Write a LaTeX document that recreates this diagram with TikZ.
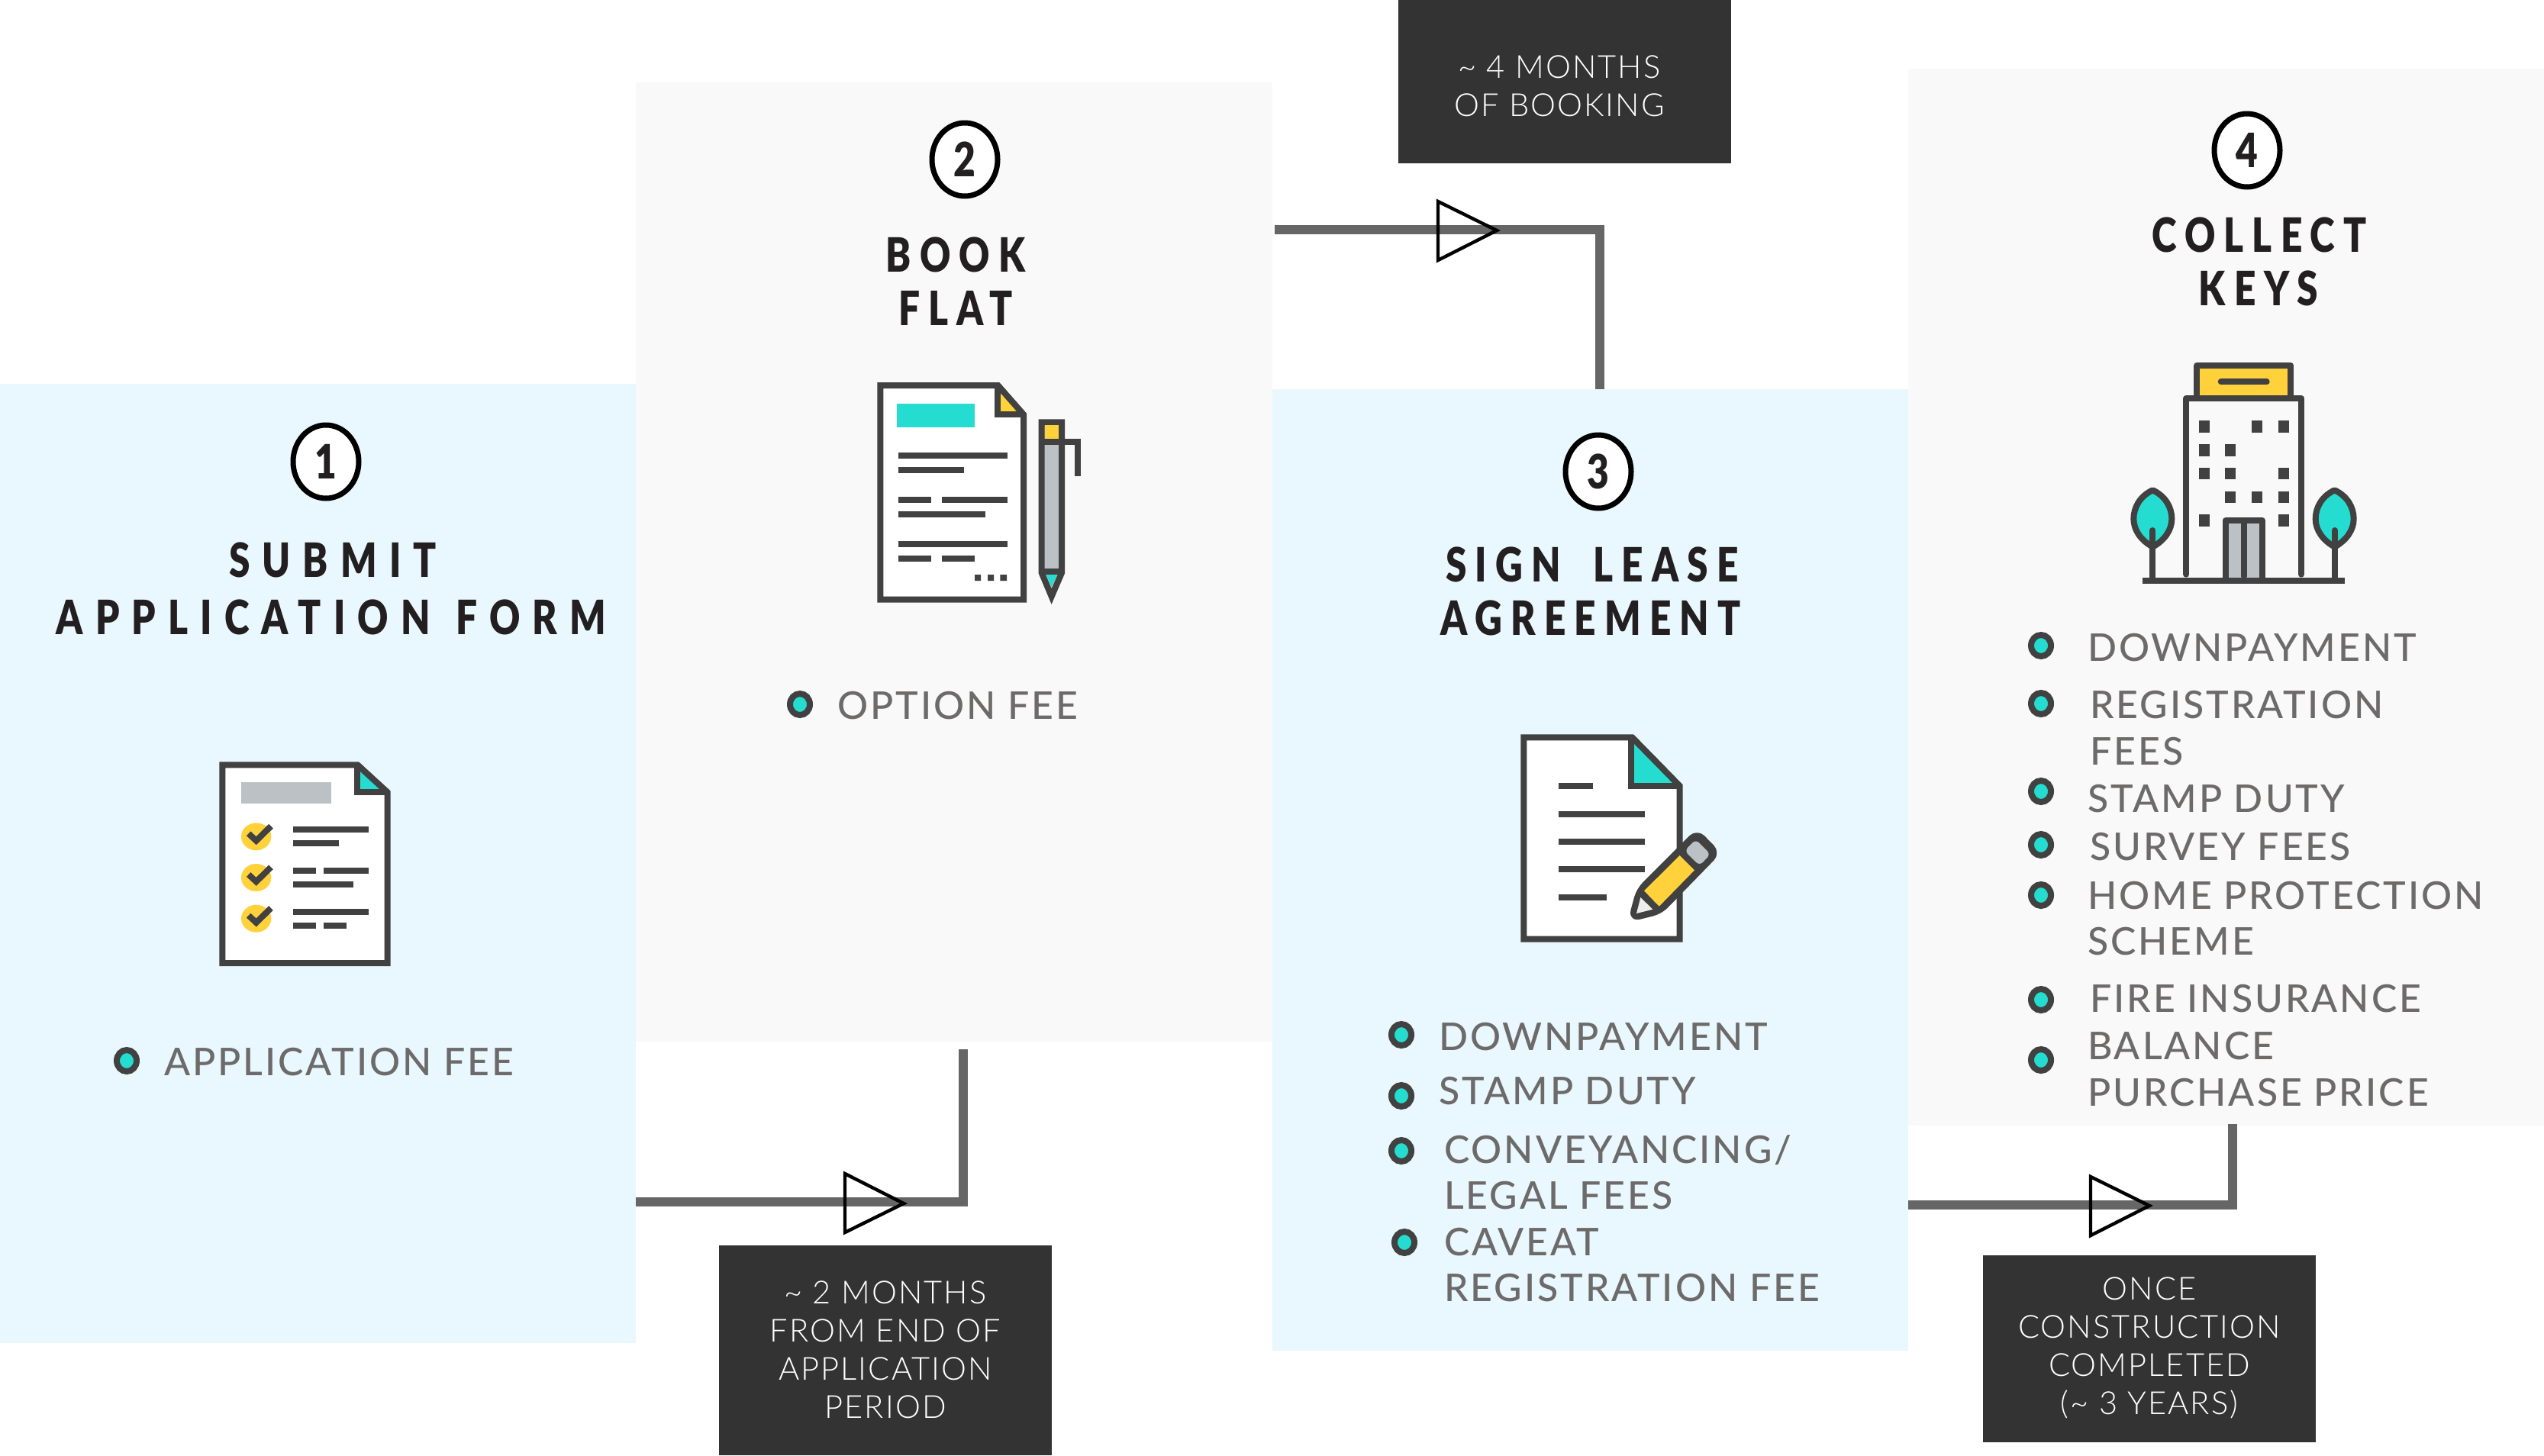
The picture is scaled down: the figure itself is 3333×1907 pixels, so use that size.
\documentclass[tikz,border=0pt]{standalone}
\usepackage{fontspec}
\usetikzlibrary{shapes.geometric}
\setmainfont[LetterSpace=6]{Lato Medium}
\newfontfamily\headfont[FakeStretch=0.8,LetterSpace=18]{Lato Black}
\newfontfamily\headwide[FakeStretch=0.8,LetterSpace=26]{Lato Black}
\newfontfamily\digitfont[FakeStretch=0.8]{Lato Black}
\newfontfamily\lightfont[LetterSpace=5]{Lato Light}
\definecolor{pblue}{HTML}{E9F7FF}
\definecolor{pgray}{HTML}{F9F9F9}
\definecolor{cline}{HTML}{666666}
\definecolor{cbox}{HTML}{333333}
\definecolor{idark}{HTML}{414141}
\definecolor{iyellow}{HTML}{FFD13B}
\definecolor{iteal}{HTML}{24DDD0}
\definecolor{igray}{HTML}{BCC1C5}
\definecolor{ctext}{HTML}{6D6A6A}
\definecolor{chead}{HTML}{231F20}
\tikzset{
 panel/.style={rectangle,anchor=north west,inner sep=0pt,outer sep=0pt},
 numc/.style={ellipse,draw=black,fill=white,line width=3.5pt,inner sep=0pt,outer sep=0pt,minimum width=43pt,minimum height=48pt,font=\digitfont\fontsize{31}{31}\selectfont,text=chead},
 headt/.style={anchor=base,inner sep=0pt,outer sep=0pt,text=chead,font=\headfont\fontsize{31}{31}\selectfont},
 headw/.style={headt,font=\headwide\fontsize{31}{31}\selectfont},
 itemt/.style={anchor=base west,inner sep=0pt,outer sep=0pt,text=ctext,font=\fontsize{25}{25}\selectfont},
 boxt/.style={anchor=base,inner sep=0pt,outer sep=0pt,text=white,font=\lightfont\fontsize{20.8}{20.8}\selectfont},
 bul/.style={ellipse,draw=idark,fill=iteal,line width=4pt,inner sep=0pt,outer sep=0pt,minimum width=26pt,minimum height=28pt,scale=0.5},
 dbox/.style={rectangle,fill=cbox,anchor=north west,inner sep=0pt,outer sep=0pt},
 conn/.style={draw=cline,line width=6pt},
 tri/.style={draw=black,line width=2.2pt,line join=miter},
 ic/.style={draw=idark,line width=4pt,line join=miter},
 icr/.style={draw=idark,line width=4pt,line join=round,line cap=round},
}
\newcommand\ibar[3]{\draw[ic] (#1,#3) -- (#2,#3);}
\newcommand\win[2]{\fill[idark] (#1,#2) rectangle ++(42,47);}
\newcommand\tree[1]{%
 \begin{scope}[shift={(#1,0)}]
 \draw[icr,fill=iteal] (0,577) .. controls (50,600) and (75,645) .. (75,690) .. controls (75,735) and (45,775) .. (0,800) .. controls (-45,775) and (-75,735) .. (-75,690) .. controls (-75,645) and (-50,600) .. (0,577) -- cycle;
 \draw[icr] (0,735) -- (0,933);
 \end{scope}}
\begin{document}
\begin{tikzpicture}[x=0.5pt,y=-0.5pt]
\useasboundingbox (0,0) rectangle (3333,1907);
% panels
\node[panel,fill=pblue,minimum width=416.5pt,minimum height=628.5pt] (p1) at (0,503) {};
\node[panel,fill=pgray,minimum width=417pt,minimum height=628.5pt] (p2) at (833,108) {};
\node[panel,fill=pblue,minimum width=416.5pt,minimum height=630pt] (p3) at (1667,510) {};
\node[panel,fill=pgray,minimum width=416.5pt,minimum height=692.5pt] (p4) at (2500,90) {};
% connectors
\coordinate (a1) at (833,1575); \coordinate (a2) at (1262,1575); \coordinate (a3) at (1262,1375);
\coordinate (b1) at (1670,301); \coordinate (b2) at (2096,301); \coordinate (b3) at (2096,510);
\coordinate (c1) at (2500,1579); \coordinate (c2) at (2925,1579); \coordinate (c3) at (2925,1473);
\draw[conn] (a1) -- (a2) -- (a3);
\draw[conn] (b1) -- (b2) -- (b3);
\draw[conn] (c1) -- (c2) -- (c3);
\draw[tri] (1107,1538) -- (1184,1577) -- (1107,1615) -- cycle;
\draw[tri] (1884,264) -- (1961,302) -- (1884,341) -- cycle;
\draw[tri] (2739,1542) -- (2816,1580) -- (2739,1619) -- cycle;
% dark boxes
\node[dbox,minimum width=218pt,minimum height=137.5pt] (d1) at (942,1632) {};
\node[dbox,minimum width=218pt,minimum height=107pt] (d2) at (1832,0) {};
\node[dbox,minimum width=218pt,minimum height=122.5pt] (d3) at (2598,1645) {};
\node[boxt] (d1a) at (1160,1708) {\textasciitilde\ 2 MONTHS};
\node[boxt] (d1b) at (1160,1758) {FROM END OF};
\node[boxt] (d1c) at (1160,1808) {APPLICATION};
\node[boxt] (d1d) at (1160,1858) {PERIOD};
\node[boxt] (d2a) at (2043,102) {\textasciitilde\ 4 MONTHS};
\node[boxt] (d2b) at (2043,152) {OF BOOKING};
\node[boxt] (d3a) at (2816,1703) {ONCE};
\node[boxt] (d3b) at (2816,1753) {CONSTRUCTION};
\node[boxt] (d3c) at (2816,1803) {COMPLETED};
\node[boxt] (d3d) at (2816,1853) {(\textasciitilde\ 3 YEARS)};
% numbers
\node[numc] (n1) at (427,605) {1};
\node[numc] (n2) at (1264,209) {2};
\node[numc] (n3) at (2094,618) {3};
\node[numc] (n4) at (2944,197) {4};
% headings
\node[headw] (h1a) at (436,756) {SUBMIT};
\node[headw] (h1b) at (434,831) {APPLICATION\hspace{3pt} FORM};
\node[headt] (h2a) at (1252,356) {BOOK};
\node[headt] (h2b) at (1252,426) {FLAT};
\node[headt] (h3a) at (2086,762) {SIGN\hspace{10pt} LEASE};
\node[headt] (h3b) at (2084,832) {AGREEMENT};
\node[headt] (h4a) at (2960,330) {COLLECT};
\node[headt] (h4b) at (2959,400) {KEYS};
% items
\node[bul] (b11) at (166,1390) {};
\node[itemt] (t11) at (215,1409) {APPLICATION FEE};
\node[bul] (b21) at (1048,923) {};
\node[itemt] (t21) at (1097,942) {OPTION FEE};
\node[bul] (b31) at (1836,1356) {};
\node[bul] (b32) at (1836,1436) {};
\node[bul] (b33) at (1836,1508) {};
\node[bul] (b34) at (1840,1628) {};
\node[itemt] (t31) at (1885,1376) {DOWNPAYMENT};
\node[itemt] (t32) at (1885,1447) {STAMP DUTY};
\node[itemt] (t33) at (1892,1524) {CONVEYANCING/};
\node[itemt] (t34) at (1892,1584) {LEGAL FEES};
\node[itemt] (t35) at (1892,1645) {CAVEAT};
\node[itemt] (t36) at (1892,1705) {REGISTRATION FEE};
\node[bul] (b41) at (2674,846) {};
\node[bul] (b42) at (2674,922) {};
\node[bul] (b43) at (2674,1037) {};
\node[bul] (b44) at (2674,1107) {};
\node[bul] (b45) at (2674,1173) {};
\node[bul] (b46) at (2674,1310) {};
\node[bul] (b47) at (2674,1389) {};
\node[itemt] (t41) at (2735,866) {DOWNPAYMENT};
\node[itemt] (t42) at (2738,941) {REGISTRATION};
\node[itemt] (t43) at (2738,1002) {FEES};
\node[itemt] (t44) at (2735,1064) {STAMP DUTY};
\node[itemt] (t45) at (2738,1127) {SURVEY FEES};
\node[itemt] (t46) at (2735,1191) {HOME PROTECTION};
\node[itemt] (t47) at (2735,1251) {SCHEME};
\node[itemt] (t48) at (2738,1326) {FIRE INSURANCE};
\node[itemt] (t49) at (2735,1388) {BALANCE};
\node[itemt] (t410) at (2735,1449) {PURCHASE PRICE};
% icon 1
\begin{scope}[shift={(250,960)},scale=1/3]
 \draw[ic,fill=white] (124,127) -- (655,127) -- (773,235) -- (773,906) -- (124,906) -- cycle;
 \fill[iteal] (654,127) -- (773,235) -- (654,235) -- cycle;
 \draw[ic] (654,127) -- (654,235) -- (773,235);
 \draw[ic] (655,127) -- (773,235);
 \fill[igray] (197,194) rectangle (552,279);
 \foreach \yy in {409,570,731}{
  \fill[iyellow] (257,\yy) ellipse [x radius=59,y radius=54];
  \draw[ic] (227,\yy-12) -- (257,\yy+16) -- (315,\yy-41);
 }
 \ibar{403}{699}{382} \ibar{403}{581}{436}
 \ibar{403}{493}{544} \ibar{522}{699}{544} \ibar{403}{640}{597}
 \ibar{403}{699}{705} \ibar{403}{493}{758} \ibar{522}{611}{758}
\end{scope}
% icon 2
\begin{scope}[shift={(1120,480)},scale=1/3]
 \draw[ic,fill=white] (100,75) -- (562,75) -- (663,190) -- (663,917) -- (100,917) -- cycle;
 \fill[iyellow] (561,75) -- (663,190) -- (561,190) -- cycle;
 \draw[ic] (561,75) -- (561,190) -- (663,190);
 \draw[ic] (562,75) -- (663,190);
 \fill[iteal] (164,147) rectangle (471,240);
 \ibar{170}{600}{350} \ibar{170}{428}{409}
 \ibar{170}{300}{524} \ibar{342}{600}{524} \ibar{170}{514}{583}
 \ibar{170}{600}{699} \ibar{170}{300}{757} \ibar{342}{471}{757}
 \fill[idark] (471,819) rectangle (495,843) (522,819) rectangle (546,843) (571,819) rectangle (597,843);
 \draw[ic,fill=igray] (734,220) -- (813,220) -- (813,812) -- (773,905) -- (734,812) -- cycle;
 \fill[iyellow] (746,232) rectangle (801,285);
 \draw[ic] (734,297) -- (876,297) -- (876,433);
 \draw[ic] (734,806) -- (813,806);
 \fill[iteal] (752,819) -- (796,819) -- (773,866) -- cycle;
\end{scope}
% icon 3
\begin{scope}[shift={(1960,940)},scale=1/3]
 \draw[ic,fill=white] (109,79) -- (535,79) -- (722,270) -- (722,872) -- (109,872) -- cycle;
 \fill[iteal] (531,79) -- (722,270) -- (531,270) -- cycle;
 \draw[ic] (531,85) -- (531,270) -- (722,270);
 \draw[ic] (535,79) -- (722,270);
 \ibar{245}{382}{271} \ibar{245}{586}{380} \ibar{245}{586}{490} \ibar{245}{586}{598} \ibar{245}{436}{708}
 \draw[draw=idark,line width=4pt,fill=idark,line join=round,rounded corners=5pt] (533,790) -- (563,680) -- (790,453) -- (868,533) -- (645,762) -- cycle;
 \fill[iyellow] (582,682) -- (722,543) -- (780,601) -- (641,743) -- cycle;
 \fill[igray,rounded corners=3pt] (741,525) -- (785,480) -- (843,538) -- (800,583) -- cycle;
 \fill[black!7] (568,708) -- (616,755) -- (552,771) -- cycle;
\end{scope}
% icon 4
\begin{scope}[shift={(2760,450)},scale=1/3]
 \draw[icr,fill=iyellow] (355,216) -- (355,87) -- (723,87) -- (723,216);
 \draw[icr] (449,151) -- (629,151);
 \draw[icr] (313,908) -- (313,216) -- (765,216) -- (765,908);
 \win{363}{303} \win{571}{303} \win{674}{303}
 \win{363}{396} \win{466}{396}
 \win{363}{488} \win{466}{488} \win{674}{488}
 \win{466}{581} \win{571}{581} \win{674}{581}
 \win{363}{673} \win{674}{673}
 \draw[icr,fill=igray] (467,933) -- (467,697) -- (611,697) -- (611,933);
 \draw[icr] (539,697) -- (539,915);
 \draw[ic] (142,933) -- (937,933);
 \tree{181}
 \tree{896}
\end{scope}
\end{tikzpicture}
\end{document}
